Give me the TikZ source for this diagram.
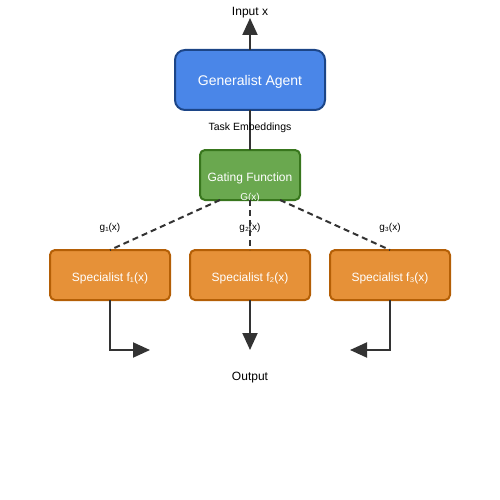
\documentclass[tikz,border=0pt]{standalone}
\usepackage{fontspec}
\setmainfont{Liberation Sans}
\usetikzlibrary{arrows.meta}
\definecolor{agentblue}{HTML}{4A86E8}
\definecolor{agentedge}{HTML}{1C4587}
\definecolor{gategreen}{HTML}{6AA84F}
\definecolor{gateedge}{HTML}{38761D}
\definecolor{specorange}{HTML}{E69138}
\definecolor{specedge}{HTML}{B45F06}
\definecolor{wire}{HTML}{333333}
\tikzset{
	box/.style={draw,line width=2pt,text=white,inner sep=0pt,outer sep=0pt,text depth=0pt},
	agentbox/.style={box,rounded corners=10pt,fill=agentblue,draw=agentedge,
		minimum width=150pt,minimum height=60pt,font=\fontsize{14}{16}\selectfont},
	gatebox/.style={box,rounded corners=5pt,fill=gategreen,draw=gateedge,
		minimum width=100pt,minimum height=50pt},
	specbox/.style={box,rounded corners=5pt,fill=specorange,draw=specedge,
		minimum width=120pt,minimum height=50pt,font=\fontsize{12}{14}\selectfont},
	wire/.style={draw=wire,line width=2pt},
	tip/.style={-{Triangle[length=17pt,width=15pt]}},
	small/.style={font=\fontsize{10}{12}\selectfont},
}
\newcommand{\Specialist}[3]{
	%box
	\node[specbox] (spec#1) at (#2,275) {};
	\node[text=white,font=\fontsize{12}{14}\selectfont] (name#1) at (#2,278) {Specialist f#3(x)};
	%weight
	\node[small] (g#1) at (#2,228) {g#3(x)};
}

\begin{document}
\begin{tikzpicture}[x=1pt,y=-1pt]
\useasboundingbox (0,0) rectangle (500,500);

%agent
\node[agentbox] (agent) at (250,80) {Generalist Agent};
\node[font=\fontsize{12}{14}\selectfont] (input) at (250,13) {Input x};
\coordinate (intip) at (250,18);
\draw[wire,tip] (agent.north) -- (intip);

%gating
\node[gatebox] (gate) at (250,175) {};
\node[text=white,font=\fontsize{12}{14}\selectfont] (gatename) at (250,178) {Gating Function};
\node[text=white,small] (gx) at (250,198) {G(x)};
\draw[wire] (agent.south) -- (gate.north);
\node[font=\fontsize{10.5}{12}\selectfont] (emb) at (250,127.5) {Task Embeddings};

%specialists
\foreach \i/\x/\s in {1/110/₁,2/250/₂,3/390/₃}{
	\Specialist{\i}{\x}{\s}
}
\draw[wire,dash pattern=on 6pt off 4pt] ([xshift=-30pt]gate.south) -- (spec1.north);
\draw[wire,dash pattern=on 6pt off 4pt] (gate.south) -- (spec2.north);
\draw[wire,dash pattern=on 6pt off 4pt] ([xshift=30pt]gate.south) -- (spec3.north);

%output
\coordinate (out1) at (150,350);
\coordinate (out2) at (250,350);
\coordinate (out3) at (350,350);
\draw[wire,tip] (spec1.south) |- (out1);
\draw[wire,tip] (spec2.south) -- (out2);
\draw[wire,tip] (spec3.south) |- (out3);
\node[font=\fontsize{12}{14}\selectfont] (output) at (250,378) {Output};
\end{tikzpicture}
\end{document}
